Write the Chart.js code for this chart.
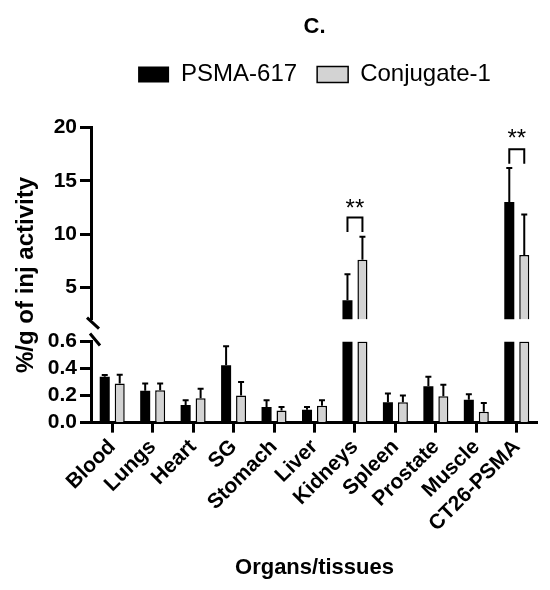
<!DOCTYPE html>
<html>
<head>
<meta charset="utf-8">
<script src="https://cdn.jsdelivr.net/npm/chart.js@4.4.1/dist/chart.umd.min.js"></script>
<style>
  html, body { margin: 0; padding: 0; background: #fff; }
  #wrap { width: 550px; height: 590px; }
</style>
</head>
<body>
<div id="wrap"><canvas id="myChart"></canvas></div>
<script>
const categorias = ['Blood', 'Lungs', 'Heart', 'SG', 'Stomach', 'Liver', 'Kidneys', 'Spleen', 'Prostate', 'Muscle', 'CT26-PSMA'];
const psma617 = [0.34, 0.235, 0.13, 0.425, 0.115, 0.095, 3.8, 0.15, 0.27, 0.17, 13.0];
const psma617Erro = [0.013, 0.055, 0.035, 0.14, 0.05, 0.02, 2.45, 0.065, 0.07, 0.04, 3.2];
const conjugado1 = [0.29, 0.24, 0.18, 0.2, 0.09, 0.125, 7.6, 0.15, 0.195, 0.08, 8.05];
const conjugado1Erro = [0.065, 0.05, 0.07, 0.1, 0.025, 0.04, 2.15, 0.05, 0.085, 0.065, 3.8];

const ticksBaixo = [0, 0.2, 0.4, 0.6];
const ticksAlto = [5, 10, 15, 20];
const topoBaixo = 0.6;   // lower segment goes 0 .. 0.6
const baseAlto = 2;      // upper segment goes 2 .. 20
const topoAlto = 20;

// significance marks (category, bracket top, bracket legs end, star centre)
const sigCategorias = ['Kidneys', 'CT26-PSMA'];
const sigColchete = [11.55, 17.95];
const sigPernas = [10.2, 16.6];
const sigEstrelas = [13.0, 19.5];

const preto = '#000000';
const cinza = '#d3d3d3';
const fonte = '"Liberation Sans", Arial, sans-serif';

const errorBars = {
    id: 'errorBars',
    afterDatasetsDraw(chart) {
        const ctx = chart.ctx;
        const grupos = [
            [0, psma617, psma617Erro, 'yLow'],
            [1, conjugado1, conjugado1Erro, 'yLow'],
            [2, psma617, psma617Erro, 'yHigh'],
            [3, conjugado1, conjugado1Erro, 'yHigh']
        ];
        ctx.save();
        ctx.strokeStyle = preto;
        ctx.lineWidth = 2;
        grupos.forEach(([ds, valores, erros, eixo]) => {
            const meta = chart.getDatasetMeta(ds);
            const scale = chart.scales[eixo];
            valores.forEach((v, i) => {
                const baixo = v <= topoBaixo;
                if ((eixo === 'yLow') !== baixo) return;
                const bar = meta.data[i];
                const y0 = scale.getPixelForValue(v);
                const y1 = scale.getPixelForValue(v + erros[i]);
                ctx.beginPath();
                ctx.moveTo(bar.x, y0);
                ctx.lineTo(bar.x, y1);
                ctx.moveTo(bar.x - 3, y1);
                ctx.lineTo(bar.x + 3, y1);
                ctx.stroke();
            });
        });

        // brackets and stars
        const yHigh = chart.scales.yHigh;
        sigCategorias.forEach((nome, k) => {
            const i = categorias.indexOf(nome);
            const xa = chart.getDatasetMeta(2).data[i].x;
            const xb = chart.getDatasetMeta(3).data[i].x;
            const yt = yHigh.getPixelForValue(sigColchete[k]);
            const yl = yHigh.getPixelForValue(sigPernas[k]);
            ctx.beginPath();
            ctx.moveTo(xa, yl);
            ctx.lineTo(xa, yt);
            ctx.lineTo(xb, yt);
            ctx.lineTo(xb, yl);
            ctx.stroke();
            ctx.fillStyle = preto;
            ctx.font = '24px ' + fonte;
            ctx.textAlign = 'center';
            ctx.textBaseline = 'alphabetic';
            ctx.fillText('**', (xa + xb) / 2, yHigh.getPixelForValue(sigEstrelas[k]) + 13.5);
        });

        // axis break marks
        const ax = chart.scales.yLow.right;
        const hb = chart.scales.yHigh.bottom;
        const lt = chart.scales.yLow.top;
        ctx.lineWidth = 3;
        ctx.beginPath();
        ctx.moveTo(ax - 5, hb - 2);
        ctx.lineTo(ax + 7, hb + 9);
        ctx.moveTo(ax - 2, lt - 8);
        ctx.lineTo(ax + 8, lt + 4);
        ctx.stroke();
        ctx.restore();
    }
};

const eixoY = (extra) => Object.assign({
    type: 'linear',
    position: 'left',
    stack: 'y',
    stacked: false,
    grid: { drawOnChartArea: false, tickLength: 12, tickWidth: 3, tickColor: preto },
    border: { color: preto, width: 3 },
    ticks: { color: preto, padding: 3, autoSkip: false, font: { family: fonte, size: 21, weight: 'bold' } }
}, extra);

const ctx = document.getElementById('myChart');
const chart = new Chart(ctx, {
    type: 'bar',
    data: {
        labels: categorias,
        datasets: [
            {
                label: 'PSMA-617',
                data: psma617.map(v => Math.min(v, topoBaixo)),
                yAxisID: 'yLow', stack: 'a',
                backgroundColor: preto, borderWidth: 0
            },
            {
                label: 'Conjugate-1',
                data: conjugado1.map(v => Math.min(v, topoBaixo)),
                yAxisID: 'yLow', stack: 'b',
                backgroundColor: cinza, borderColor: preto, borderWidth: 1.5
            },
            {
                label: 'PSMA-617 high',
                data: psma617.map(v => v > baseAlto ? v : null),
                yAxisID: 'yHigh', stack: 'a', base: baseAlto,
                backgroundColor: preto, borderWidth: 0
            },
            {
                label: 'Conjugate-1 high',
                data: conjugado1.map(v => v > baseAlto ? v : null),
                yAxisID: 'yHigh', stack: 'b', base: baseAlto,
                backgroundColor: cinza, borderColor: preto, borderWidth: 1.5
            }
        ]
    },
    options: {
        responsive: true,
        maintainAspectRatio: false,
        animation: false,
        categoryPercentage: 0.74,
        barPercentage: 0.67,
        layout: { padding: { top: 2, right: 13, bottom: 9, left: 0 } },
        plugins: {
            title: {
                display: true, text: 'C.', color: preto, fullSize: false,
                font: { family: fonte, size: 22, weight: 'bold' },
                padding: { top: 12, bottom: 2 }
            },
            // empty spacer between legend and plot
            subtitle: {
                display: true, text: '', fullSize: false, weight: 900,
                font: { size: 10 },
                padding: { top: 0, bottom: 19 }
            },
            legend: {
                fullSize: false,
                labels: {
                    filter: item => item.datasetIndex < 2,
                    color: preto, boxWidth: 31, boxHeight: 16, padding: 20,
                    font: { family: fonte, size: 24 }
                }
            },
            tooltip: { enabled: false }
        },
        scales: {
            x: {
                offset: true,
                grid: { display: true, drawOnChartArea: false, offset: false, tickLength: 10, tickWidth: 3, tickColor: preto },
                border: { color: preto, width: 3 },
                ticks: {
                    color: preto, autoSkip: false, maxRotation: 45, minRotation: 45, padding: 2,
                    font: { family: fonte, size: 21, weight: 'bold' }
                },
                title: {
                    display: true, text: 'Organs/tissues', color: preto,
                    font: { family: fonte, size: 22, weight: 'bold' },
                    padding: { top: 16, bottom: 0 }
                }
            },
            yLow: eixoY({
                weight: 1, stackWeight: 81,
                min: 0, max: topoBaixo,
                afterBuildTicks: s => { s.ticks = ticksBaixo.map(v => ({ value: v })); },
                ticks: { color: preto, padding: 3, autoSkip: false, font: { family: fonte, size: 21, weight: 'bold' }, callback: v => Number(v).toFixed(1) }
            }),
            yGap: {
                type: 'linear', position: 'left', stack: 'y', stackWeight: 22, weight: 2,
                min: 0, max: 1,
                grid: { display: false, drawTicks: false },
                border: { display: false },
                ticks: { display: false }
            },
            yHigh: eixoY({
                weight: 3, stackWeight: 192,
                min: baseAlto, max: topoAlto,
                afterBuildTicks: s => { s.ticks = ticksAlto.map(v => ({ value: v })); }
            }),
            yTitle: {
                type: 'linear', position: 'left', weight: 10,
                min: 0, max: 1,
                grid: { display: false, drawTicks: false },
                border: { display: false },
                ticks: { display: false },
                title: {
                    display: true, text: '%/g of inj activity', color: preto,
                    font: { family: fonte, size: 24, weight: 'bold' },
                    padding: { top: 12, bottom: 4 }
                }
            }
        }
    },
    plugins: [errorBars]
});
</script>
</body>
</html>
